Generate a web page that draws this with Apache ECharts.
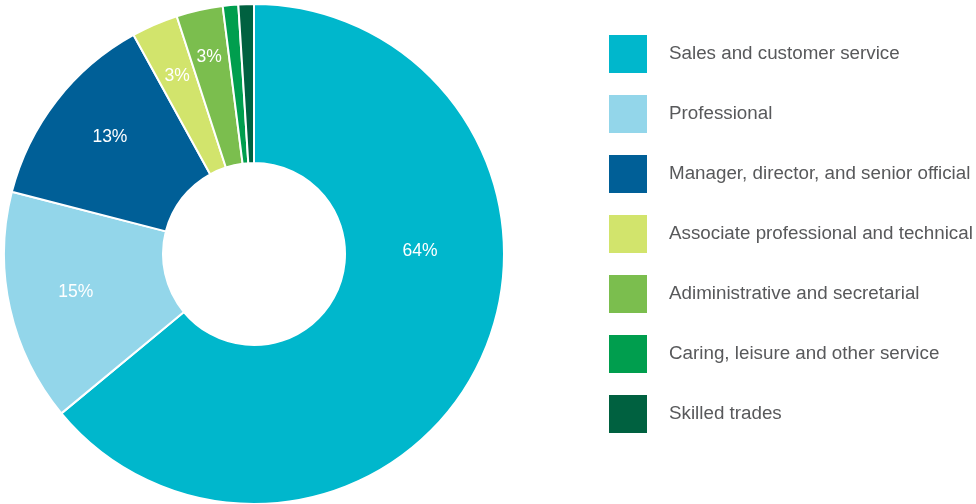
<!DOCTYPE html>
<html>
<head>
<meta charset="utf-8">
<script src="https://cdn.jsdelivr.net/npm/echarts@6/dist/echarts.min.js"></script>
<style>
  html, body { margin: 0; padding: 0; background: #ffffff; }
  #chart { width: 976px; height: 504px; }
</style>
</head>
<body>
<div id="chart"></div>
<script>
// Occupation groups and their share of roles (%)
const categories = [
  'Sales and customer service',
  'Professional',
  'Manager, director, and senior official',
  'Associate professional and technical',
  'Adiministrative and secretarial',
  'Caring, leisure and other service',
  'Skilled trades'
];
const shares = [64, 15, 13, 3, 3, 1, 1];

// Slice colours
const colors = ['#00B7CC', '#93D6EA', '#005F97', '#D2E46C', '#7BBE4E', '#009E4E', '#006140'];
// Nudges for the in-slice percentage labels (px)
const labelNudge = [[9, -77], [-9, 0], [-7, -10], [-8, -19], [-7, -28], [0, 0], [0, 0]];
// Slices that are too thin to carry a label
const minLabelled = 2;

const chart = echarts.init(document.getElementById('chart'), null, { renderer: 'canvas' });

const data = categories.map((name, i) => ({
  name: name,
  value: shares[i],
  itemStyle: { color: colors[i] },
  label: {
    show: shares[i] >= minLabelled,
    offset: labelNudge[i]
  }
}));

chart.setOption({
  animation: false,
  legend: {
    orient: 'vertical',
    left: 607,
    top: 33,
    padding: 0,
    itemWidth: 40,
    itemHeight: 40,
    itemGap: 18,
    icon: 'rect',
    selectedMode: false,
    textStyle: {
      color: '#58595B',
      fontSize: 18.8,
      lineHeight: 40,
      fontFamily: 'Liberation Sans, Arial, sans-serif',
      padding: [0, 0, 0, 16]
    },
    data: categories
  },
  series: [{
    type: 'pie',
    center: [254, 254],
    radius: [91, 250],
    startAngle: 90,
    clockwise: true,
    avoidLabelOverlap: false,
    itemStyle: { borderColor: '#ffffff', borderWidth: 2 },
    label: {
      position: 'inside',
      formatter: '{c}%',
      color: '#ffffff',
      fontSize: 17.5,
      fontFamily: 'Liberation Sans, Arial, sans-serif'
    },
    labelLine: { show: false },
    emphasis: { disabled: true },
    data: data
  }]
});
</script>
</body>
</html>
